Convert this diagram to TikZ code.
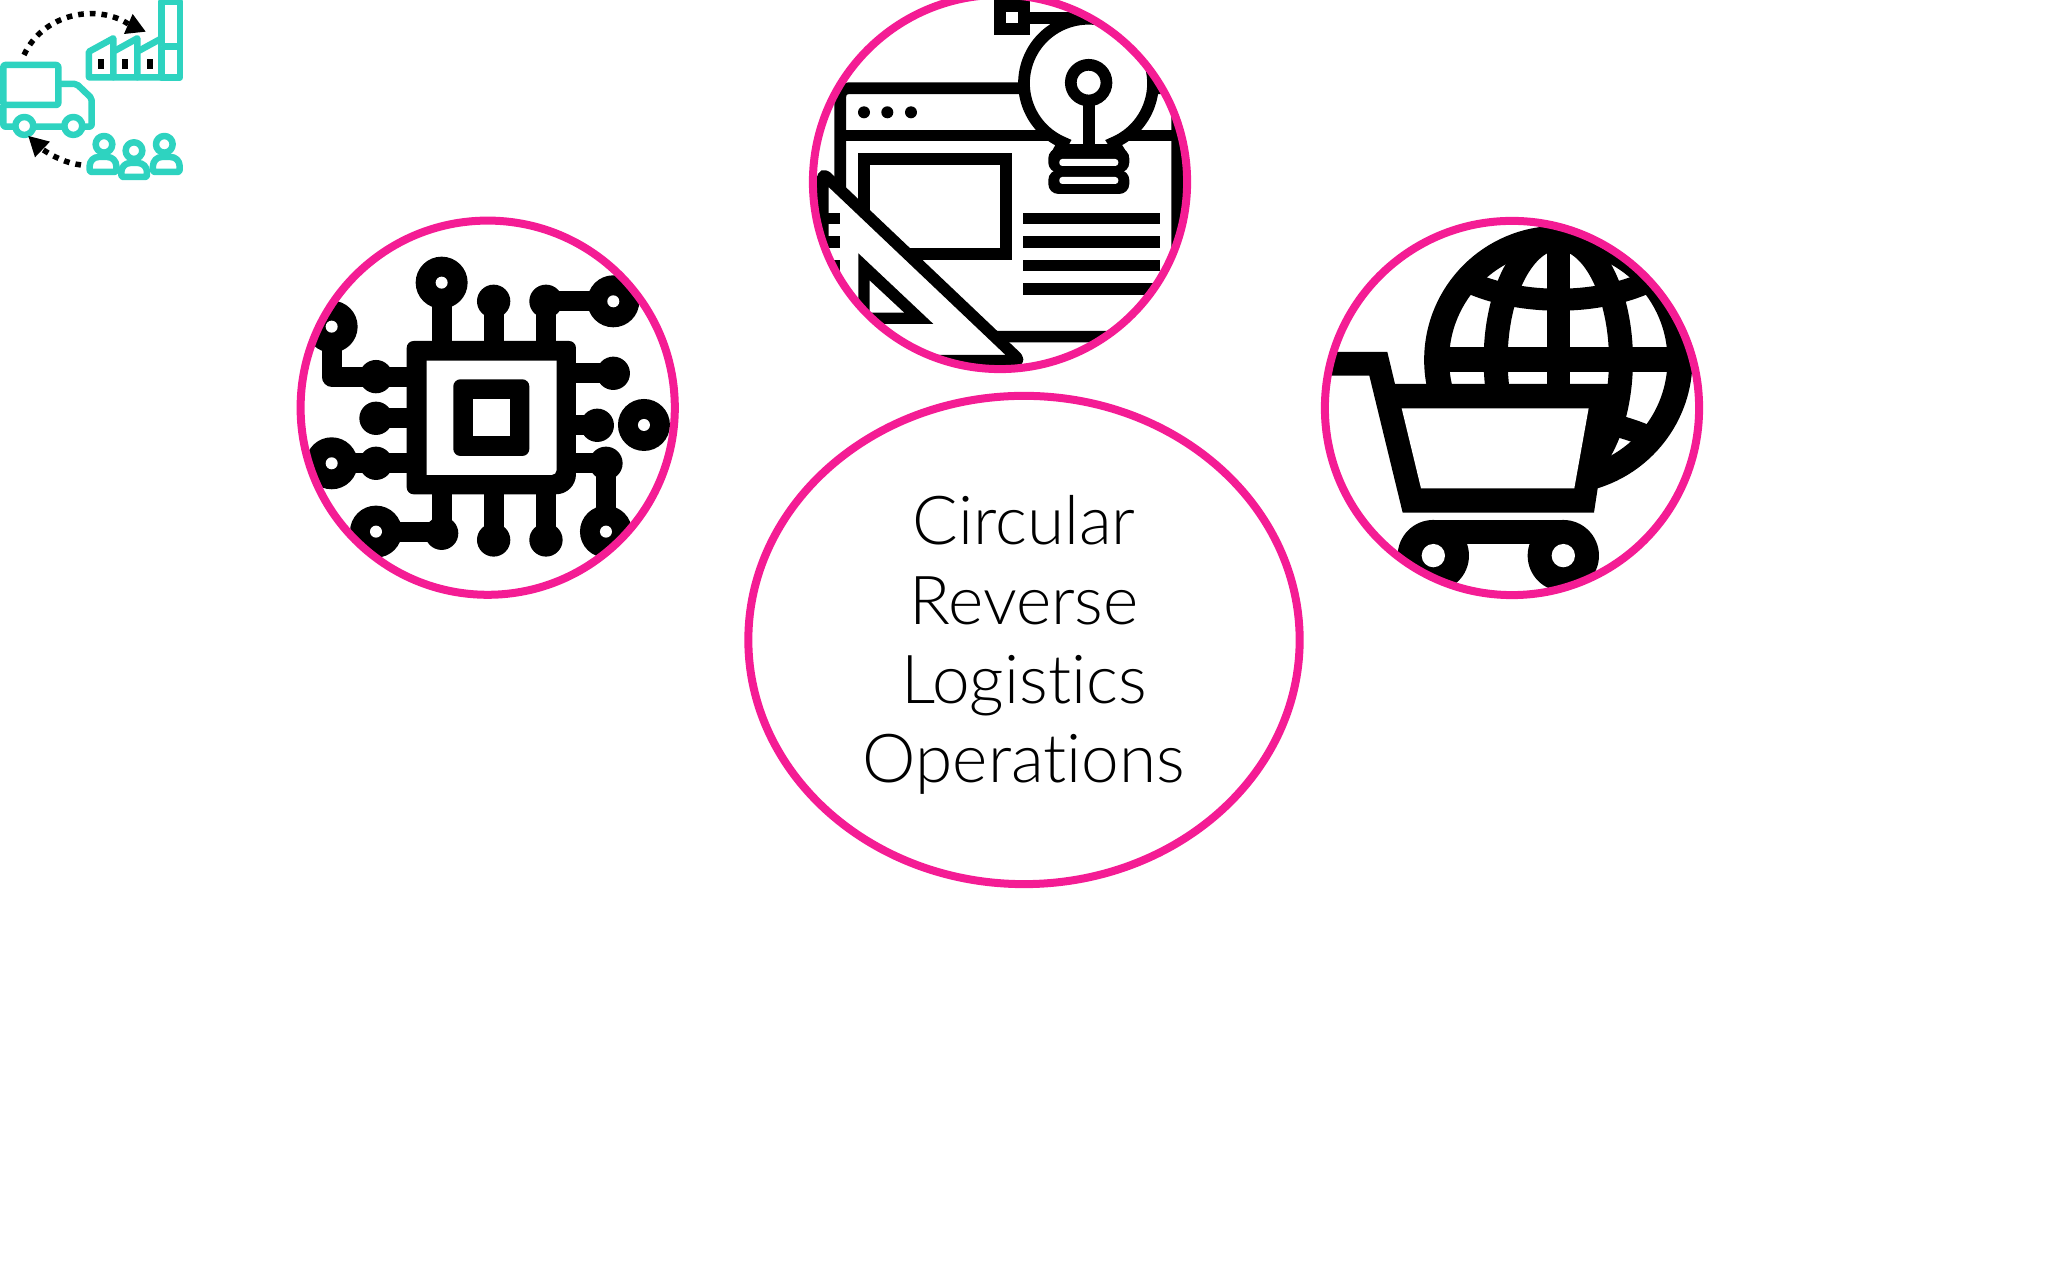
\documentclass[tikz,border=0pt]{standalone}
\usepackage{fontspec}
\setmainfont{Lato}[UprightFont=* Light, Ligatures=NoCommon]
\usetikzlibrary{shapes.geometric}
\definecolor{ringpink}{HTML}{F41C94}
\definecolor{logoteal}{HTML}{2ED3C0}
\tikzset{
	ringnode/.style={draw=ringpink, line width=0.08cm, circle, inner sep=0pt, minimum size=3.74cm},
	wire/.style={line width=0.2cm},
	stroke/.style={line width=0.117cm},
	logoline/.style={draw=logoteal, fill=white, line width=0.065cm, line join=round},
	dotarc/.style={line width=0.055cm, dash pattern=on 0.057cm off 0.06cm}
}
\begin{document}
\begin{tikzpicture}[x=0.01cm, y=-0.01cm]
	\useasboundingbox (0,0) rectangle (2048,1280);
	% truck, factory, people
	\begin{scope}[scale=0.3333]
		\draw[logoline, rounded corners=0.02cm] (10,315) -- (10,380) -- (275,380) -- (275,295) -- (230,252) -- (175,252);
		\draw[logoline, rounded corners=0.02cm] (10,195) rectangle (175,315);
		\foreach \x in {73,220} {
			\draw[logoline] (\x,378) circle (27);
		}
		\draw[logoline] (267,232) -- (267,155) -- (340,115) -- (340,232) -- cycle;
		\draw[logoline] (340,232) -- (340,155) -- (412,115) -- (412,232) -- cycle;
		\draw[logoline] (412,232) -- (412,155) -- (485,115) -- (485,232) -- cycle;
		\draw[logoline] (485,5) rectangle (540,232);
		\draw[logoline] (485,140) -- (540,140);
		\foreach \x in {294,366,440} {
			\fill[black] (\x,178) rectangle ++(18,28);
		}
		\foreach \x in {269,459} {
			\draw[logoline, rounded corners=0.02cm] (\x,516) [rounded corners=0.09cm] -- (\x,471) -- (\x+80,471) [rounded corners=0.02cm] -- (\x+80,516) -- cycle;
		}
		\draw[logoline, rounded corners=0.02cm] (364,531) [rounded corners=0.09cm] -- (364,489) -- (441,489) [rounded corners=0.02cm] -- (441,531) -- cycle;
		\foreach \x/\y in {312/433,402/452,493/433} {
			\draw[logoline] (\x,\y) circle (25);
		}
		\coordinate (arcstart) at (72,165);
		\coordinate (arcend) at (385,72);
		\coordinate (backstart) at (243,495);
		\coordinate (backend) at (127,448);
		\draw[dotarc] (arcstart) .. controls (130,40) and (290,10) .. (arcend);
		\fill (398,42) -- (437,95) -- (372,102) -- cycle;
		\draw[dotarc] (backstart) .. controls (200,490) and (160,470) .. (backend);
		\fill (85,408) -- (150,425) -- (105,472) -- cycle;
	\end{scope}
	% chip
	\begin{scope}[shift={(290,210)}, scale=0.3333]
		\clip (593,593) circle (560);
		\draw[wire] (455,400) -- (455,218);
		\draw[wire] (611,400) -- (611,274);
		\draw[wire] (768,400) -- (768,274) -- (970,274);
		\draw[wire] (850,490) -- (970,490);
		\draw[wire] (850,646) -- (922,646);
		\draw[wire] (850,760) -- (948,760) -- (948,965);
		\draw[wire] (455,850) -- (455,965) -- (258,965);
		\draw[wire] (611,850) -- (611,990);
		\draw[wire] (768,850) -- (768,990);
		\draw[wire, line join=round] (360,500) -- (125,500) -- (125,350);
		\draw[wire] (360,625) -- (258,625);
		\draw[wire] (360,760) -- (125,760);
		\foreach \x/\y in {611/274,768/274,970/490,922/646,948/760,455/970,611/990,768/990,258/500,258/625,258/760} {
			\fill (\x,\y) circle (50);
		}
		\foreach \x/\y in {455/218,970/274,1062/645,948/965,258/965,125/350,125/760} {
			\fill (\x,\y) circle (78);
			\fill[white] (\x,\y) circle (18);
		}
		\fill[rounded corners=0.07cm] (350,393) -- (858,393) [rounded corners=0.2cm] -- (858,853) [rounded corners=0.07cm] -- (350,853) -- cycle;
		\fill[white, rounded corners=0.05cm] (410,452) [sharp corners] -- (800,452) [rounded corners=0.05cm] -- (800,795) [sharp corners] -- (410,795) -- cycle;
		\fill[rounded corners=0.07cm] (490,508) rectangle (718,738);
		\fill[white] (548,568) rectangle (660,678);
	\end{scope}
	\node[ringnode] (chipring) at (487.7,407.7) {};
	% browser, bulb, set square
	\begin{scope}[shift={(800,0)}, scale=0.3333]
		\clip (600,546) circle (560);
		\draw[stroke, rounded corners=0.08cm] (121,1010) -- (121,265) -- (1132,265) -- (1132,1010) -- cycle;
		\draw[stroke] (121,407) -- (1132,407);
		\foreach \x in {192,262,333} {
			\fill (\x,337) circle (18);
		}
		\draw[stroke] (192,478) rectangle (618,762);
		\foreach \y in {655.5,726,797,868} {
			\draw[stroke] (670,\y) -- (1080,\y);
		}
		\draw[stroke, fill=white] (778,450) -- (790,428) arc (113:427:193.5) -- (955,450) -- cycle;
		\draw[stroke, fill=white] (600,17) rectangle (671,88);
		\draw[stroke] (671,53) -- (860,53);
		\draw[stroke, fill=white] (866,248) circle (53.5);
		\draw[stroke] (867,300) -- (867,450);
		\fill[rounded corners=0.1cm] (745,445) rectangle (988,518);
		\fill[rounded corners=0.1cm] (745,510) rectangle (988,582);
		\foreach \y in {477,531} {
			\fill[white, rounded corners=0.03cm] (778,\y) rectangle (955,\y+21);
		}
		\draw[stroke, fill=white, line join=round, rounded corners=0.05cm] (68,520) -- (660,1082) -- (68,1082) -- cycle;
		\foreach \y in {655.5,726,797} {
			\draw[stroke] (85,\y) -- (120,\y);
		}
		\fill (175,760) -- (400,972) -- (175,972) -- cycle;
		\fill[white] (209,842) -- (312,938) -- (209,938) -- cycle;
	\end{scope}
	\node[ringnode] (ideasring) at (1000,182) {};
	% globe and cart
	\begin{scope}[shift={(1310,210)}, scale=0.3333]
		\clip (606,593) circle (560);
		\draw[line width=0.25cm, fill=white] (745,450) circle (365);
		\draw[line width=0.235cm] (745,60) -- (745,840);
		\draw[line width=0.245cm] (380,448) -- (1110,448);
		\draw[line width=0.24cm] (745,450) ellipse (188 and 365);
		\draw[line width=0.22cm] (490,222) .. controls (640,285) and (850,285) .. (1000,222);
		\draw[line width=0.22cm] (490,674) .. controls (640,611) and (850,611) .. (1000,674);
		\fill (60,426) -- (232,426) -- (255,522) -- (911,522) -- (852,908) -- (278,908) -- (178,497) -- (60,497) -- cycle;
		\fill[white] (275,595) -- (836,595) -- (793,835) -- (333,835) -- cycle;
		\fill (370,930) rectangle (760,1002);
		\foreach \x in {370,760} {
			\fill (\x,1037) circle (107);
			\fill[white] (\x,1037) circle (35);
		}
	\end{scope}
	\node[ringnode] (cartring) at (1512,408) {};
	\node[ellipse, draw=ringpink, line width=0.08cm, inner sep=0pt, minimum width=5.51cm, minimum height=4.88cm] (opsring) at (1024,640) {};
	\node[align=center, font=\fontsize{19.2}{22.5}\selectfont] (opstext) at ([yshift=-0.05cm]opsring.center) {Circular\\Reverse\\Logistics\\Operations};
\end{tikzpicture}
\end{document}
